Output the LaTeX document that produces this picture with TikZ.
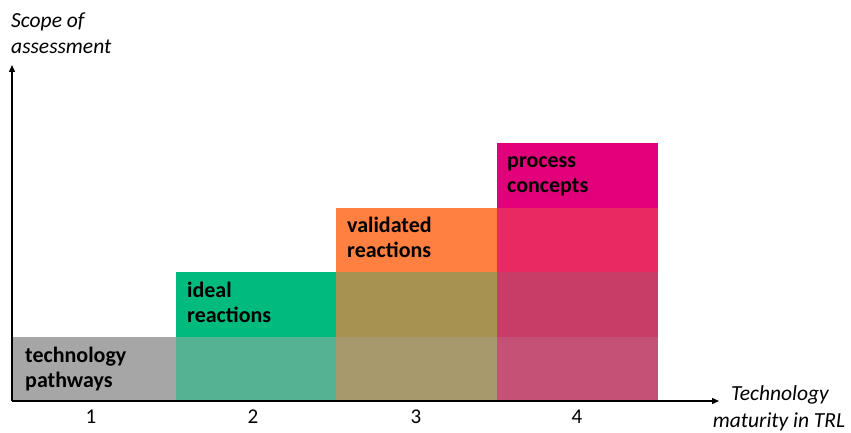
\documentclass[tikz,border=0pt]{standalone}
\usepackage{fontspec}
\setmainfont{Carlito}
\usetikzlibrary{arrows.meta}
\definecolor{cgray}{HTML}{A6A6A6}
\definecolor{cgreenA}{HTML}{00BA7E}
\definecolor{cgreenB}{HTML}{55B394}
\definecolor{corange}{HTML}{FF8040}
\definecolor{coliveA}{HTML}{A89252}
\definecolor{coliveB}{HTML}{A8996C}
\definecolor{cmagA}{HTML}{E2007A}
\definecolor{cmagB}{HTML}{E92A62}
\definecolor{cmagC}{HTML}{C83C68}
\definecolor{cmagD}{HTML}{C55177}
\begin{document}
\begin{tikzpicture}[x=1pt,y=-1pt,
  lbl/.style={anchor=north west,inner sep=0pt,align=left,font=\fontsize{22}{25}\selectfont\bfseries},
  tick/.style={anchor=base,inner sep=0pt,font=\fontsize{21}{24}\selectfont},
  axtitle/.style={inner sep=0pt,font=\fontsize{21.5}{26}\selectfont\itshape},
  axis/.style={line width=1.4pt,-{Triangle[length=7pt,width=6pt]}}]
\useasboundingbox (0,0) rectangle (851,433);
% cells
\fill[cgray] (13,337) rectangle (176,401);
\fill[cgreenB] (176,337) rectangle (336,401);
\fill[cgreenA] (176,272) rectangle (336,337);
\fill[coliveB] (336,337) rectangle (497,401);
\fill[coliveA] (336,272) rectangle (497,337);
\fill[corange] (336,208) rectangle (497,272);
\fill[cmagD] (497,337) rectangle (658,401);
\fill[cmagC] (497,272) rectangle (658,337);
\fill[cmagB] (497,208) rectangle (658,272);
\fill[cmagA] (497,143) rectangle (658,208);
% labels
\node[lbl] (l1) at (25,346.5) {\rule{0pt}{15pt}technology\\pathways};
\node[lbl] (l2) at (187,281.5) {\rule{0pt}{15pt}ideal\\reactions};
\node[lbl] (l3) at (347,217) {\rule{0pt}{15pt}validated\\reactions};
\node[lbl] (l4) at (507,152) {\rule{0pt}{15pt}process\\concepts};
% ticks
\node[tick] (t1) at (91,423) {1};
\node[tick] (t2) at (253,423) {2};
\node[tick] (t3) at (416,423) {3};
\node[tick] (t4) at (577,423) {4};
% axes
\coordinate (o) at (12,401);
\coordinate (xe) at (719,401);
\coordinate (ye) at (12,65);
\draw[axis] (o) -- (xe);
\draw[axis] (o) -- (ye);
\node[axtitle,anchor=base west] (yt) at (11,28) {Scope of};
\node[axtitle,anchor=base west] (yt2) at (11,54) {assessment};
\node[axtitle,anchor=base] (xt) at (780,400) {Technology};
\node[axtitle,anchor=base] (xt2) at (779,427) {maturity in TRL};
\end{tikzpicture}
\end{document}
